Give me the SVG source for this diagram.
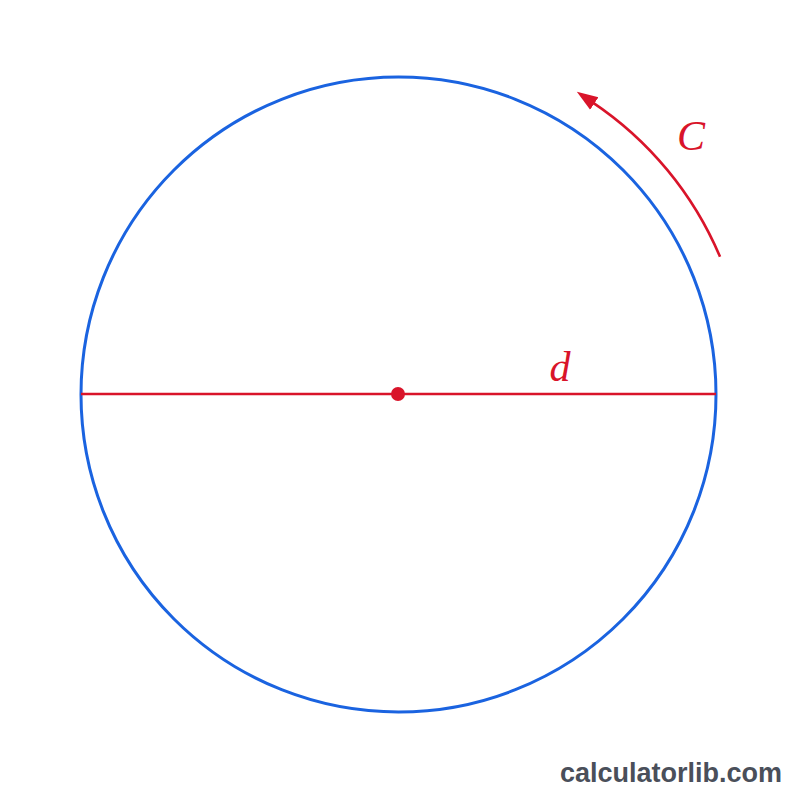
<svg xmlns="http://www.w3.org/2000/svg" width="800" height="800" viewBox="0 0 800 800">
<style>
.circ{fill:none;stroke:#1a63e0;stroke-width:3}
.red{fill:none;stroke:#d9142a;stroke-width:2.6}
.lbl{font-family:"Liberation Serif","DejaVu Serif",serif;font-style:italic;fill:#d9142a}
.wm{font-family:"Liberation Sans",Arial,sans-serif;font-weight:bold;fill:#4a4f5a}
</style>
<defs>
<marker id="ah" markerUnits="userSpaceOnUse" markerWidth="22" markerHeight="18" viewBox="0 0 22 18" refX="3" refY="9" orient="auto">
<path d="M0,1.5 L21,9 L0,16.5 z" fill="#d9142a"/>
</marker>
</defs>
<rect width="800" height="800" fill="#ffffff"/>
<g id="circle">
<circle class="circ" cx="398.5" cy="394.5" r="317.5"/>
</g>
<g id="connectors">
<line class="red" x1="81" y1="394" x2="716" y2="394"/>
<path class="red" d="M720,256.7 A350,350 0 0 0 591.8,101.8" marker-end="url(#ah)"/>
</g>
<g id="center">
<circle cx="398" cy="394" r="7" fill="#d9142a"/>
</g>
<g id="label-d">
<text class="lbl" x="560" y="381" font-size="42" text-anchor="middle">d</text>
</g>
<g id="label-C">
<text class="lbl" x="691" y="150" font-size="42" text-anchor="middle">C</text>
</g>
<text class="wm" x="671" y="782" font-size="27" text-anchor="middle">calculatorlib.com</text>
</svg>
